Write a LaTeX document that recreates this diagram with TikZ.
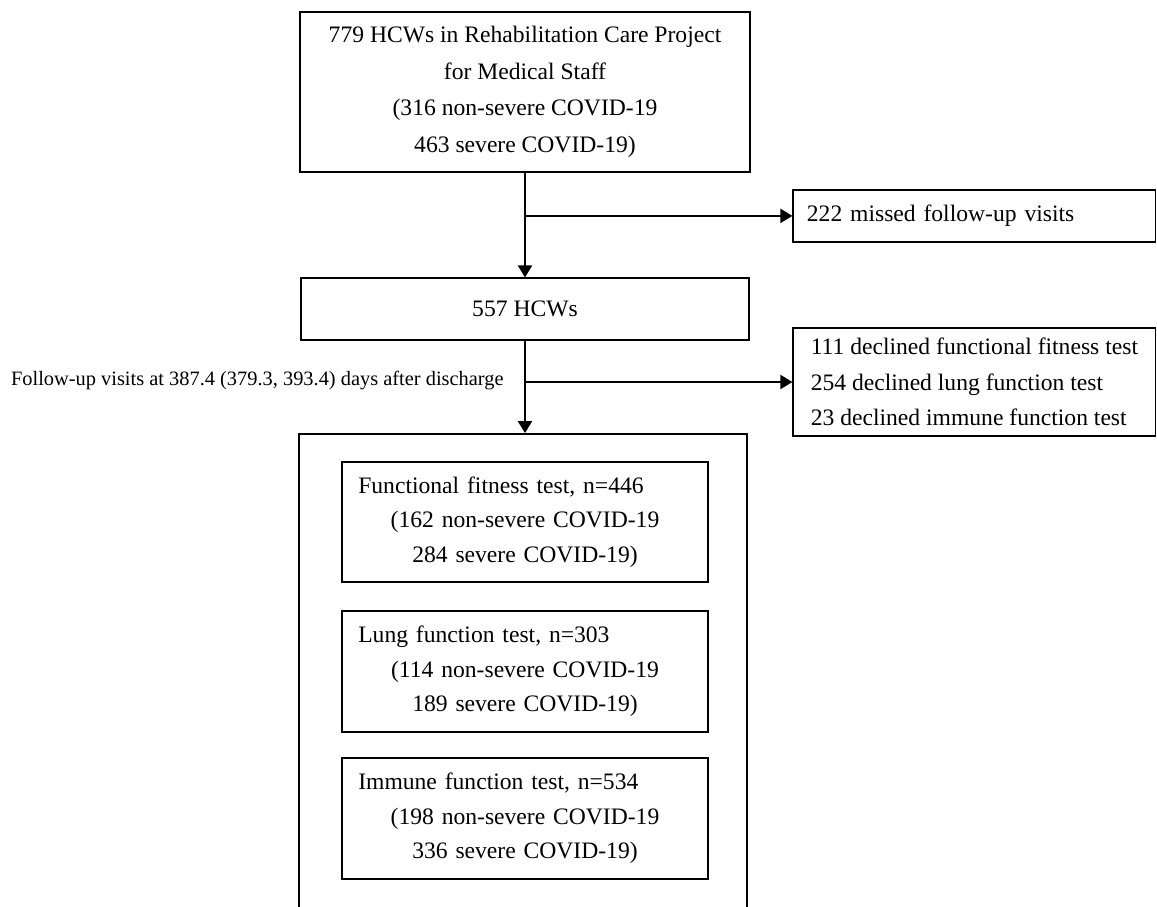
\documentclass[tikz,border=0pt]{standalone}
\usepackage{fontspec}
\setmainfont{Liberation Serif}
\usetikzlibrary{arrows.meta}
\newcommand{\lefttext}[1]{\makebox[166.7pt][l]{#1}}

\begin{document}
\begin{tikzpicture}[x=0.5pt, y=-0.5pt,
  box/.style={draw, line width=0.9pt, inner sep=0pt},
  flow/.style={line width=1pt, -{Triangle[length=6pt,width=7pt]}},
  sidebox/.style={box, minimum width=181.1pt, align=left, font=\fontsize{11.8}{17.75}\selectfont},
  testbox/.style={box, text width=166.7pt, inner xsep=8.15pt, minimum height=60.5pt, align=center, font=\fontsize{11.8}{17.25}\selectfont}]

\useasboundingbox (0,0) rectangle (1157,906);
\clip (0,0) rectangle (1157,906);

\node[box, minimum width=225pt, minimum height=80pt, align=center, font=\fontsize{11.8}{18.25}\selectfont] (recruit) at (525,92) {779 HCWs in Rehabilitation Care Project\\for Medical Staff\\(316 non-severe COVID-19\\463 severe COVID-19)};

\node[sidebox, text width=167.5pt, inner xsep=6.8pt, minimum height=25.85pt] (missed) at (974.4,215.9) {222 missed follow-up visits};

\node[box, minimum width=224.3pt, minimum height=30.85pt, font=\fontsize{11.8}{17.75}\selectfont] (hcw) at (525,309.2) {557 HCWs};

\node[sidebox, minimum height=54pt] (declined) at (974.4,382) {111 declined functional fitness test\\254 declined lung function test\\23 declined immune function test};

\node[anchor=east, inner sep=0pt, font=\fontsize{10.2}{12}\selectfont] (visits) at (504,381) {Follow-up visits at 387.4 (379.3, 393.4) days after discharge};

% tested participants, box runs off the page
\node[box, minimum width=224.15pt, minimum height=283pt] (tested) at (523.15,717) {};

\node[testbox, minimum height=60pt] (fitness) at (525,522) {\lefttext{Functional fitness test, n=446}\\(162 non-severe COVID-19\\284 severe COVID-19)};
\node[testbox] (lung) at (525,671.5) {\lefttext{Lung function test, n=303}\\(114 non-severe COVID-19\\189 severe COVID-19)};
\node[testbox] (immune) at (525,818.5) {\lefttext{Immune function test, n=534}\\(198 non-severe COVID-19\\336 severe COVID-19)};

\draw[flow] (recruit.south) -- (hcw.north);
\draw[flow] (recruit.south |- missed.west) -- (missed.west);
\draw[flow] (hcw.south) -- (hcw.south |- tested.north);
\draw[flow] (hcw.south |- declined.west) -- (declined.west);

\end{tikzpicture}
\end{document}
